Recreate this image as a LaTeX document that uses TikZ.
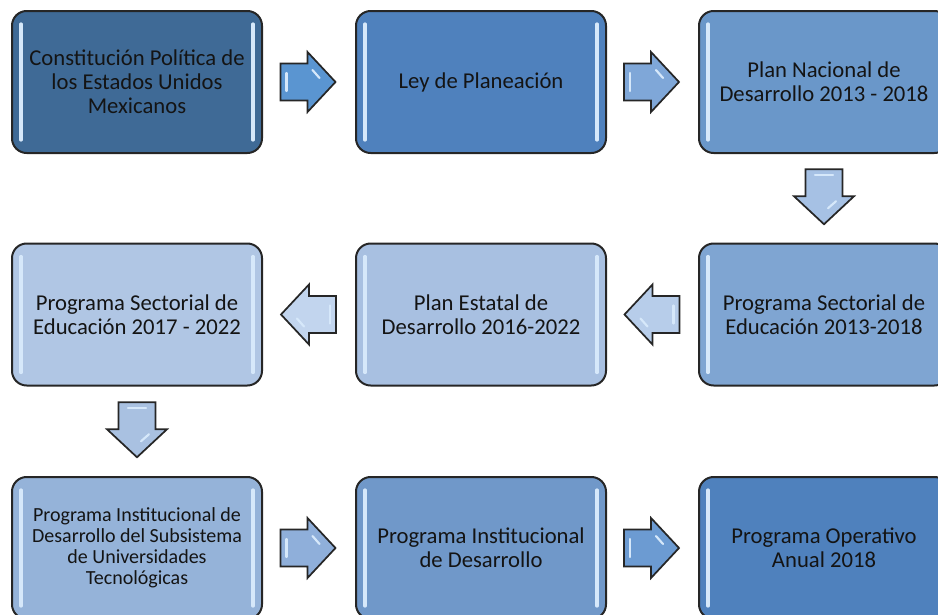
\documentclass[tikz,border=0pt]{standalone}
\usepackage{fontspec}
\setmainfont{Carlito}
\usetikzlibrary{calc}

\definecolor{cajaA}{HTML}{3F6A96}
\definecolor{cajaB}{HTML}{4F81BD}
\definecolor{cajaC}{HTML}{6A97C9}
\definecolor{cajaD}{HTML}{7FA5D2}
\definecolor{cajaE}{HTML}{A8C0E1}
\definecolor{cajaF}{HTML}{B0C6E4}
\definecolor{cajaG}{HTML}{95B3D9}
\definecolor{cajaH}{HTML}{7098C9}
\definecolor{cajaI}{HTML}{4F81BD}
\definecolor{flechaA}{HTML}{5A95D1}
\definecolor{flechaB}{HTML}{7FA7D8}
\definecolor{flechaC}{HTML}{A6C1E4}
\definecolor{flechaD}{HTML}{B7CDEA}
\definecolor{flechaE}{HTML}{C2D5EE}
\definecolor{flechaF}{HTML}{A9C1E1}
\definecolor{flechaG}{HTML}{8FAFDA}
\definecolor{flechaH}{HTML}{6C9BD2}
\definecolor{borde}{HTML}{262626}
\definecolor{texto}{HTML}{141414}
\definecolor{luz}{HTML}{D6E8FA}

\tikzset{every picture/.style={line width=0.75pt}}
\tikzset{
  caja/.style={draw=borde, line width=1.5pt, rounded corners=11pt,
    minimum width=187.5pt, minimum height=106.5pt, align=center,
    font=\fontsize{17}{18}\selectfont, text=texto},
  pics/flecha/.style={code={
    \draw[draw=borde, line width=1.3pt, line join=miter, fill=#1]
      (-27,-18.5) -- (0,-18.5) -- (0,-30) -- (28,0) -- (0,30) -- (0,18.5) -- (-27,18.5) -- cycle;
    \draw[color=luz, line width=1.6pt, line cap=round] (-21,-9) -- (-21,9);
    \draw[color=luz, line width=1.6pt, line cap=round] (12,4) -- (5,12);
  }}
}

\begin{document}
\begin{tikzpicture}[x=0.75pt,y=0.75pt,yscale=-1,xscale=1]
\path[use as bounding box, clip] (0,0) rectangle (938,614);

% Row 1
\node[caja, fill=cajaA] (cpeum) at (137,82) {Constitución Política de\\los Estados Unidos\\Mexicanos};
\node[caja, fill=cajaB] (ley) at (481,82) {Ley de Planeación};
\node[caja, fill=cajaC] (pnd) at (824,82) {Plan Nacional de\\Desarrollo 2013 - 2018};
% Row 2
\node[caja, fill=cajaD] (pse13) at (824,314.5) {Programa Sectorial de\\Educación 2013-2018};
\node[caja, fill=cajaE] (ped) at (481,314.5) {Plan Estatal de\\Desarrollo 2016-2022};
\node[caja, fill=cajaF] (pse17) at (137,314.5) {Programa Sectorial de\\Educación 2017 - 2022};
% Row 3
\node[caja, fill=cajaG, font=\fontsize{15}{15.75}\selectfont] (pids) at (137,548) {Programa Institucional de\\Desarrollo del Subsistema\\de Universidades\\Tecnológicas};
\node[caja, fill=cajaH] (pid) at (481,548) {Programa Institucional\\de Desarrollo};
\node[caja, fill=cajaI] (poa) at (824,548) {Programa Operativo\\Anual 2018};

% highlights
\foreach \caj in {cpeum,ley,pnd,pse13,ped,pse17,pids,pid,poa} {
  \draw[color=luz, line width=2.4pt, line cap=round] ($(\caj.north west)+(10,14)$) -- ($(\caj.south west)+(10,-14)$);
  \draw[color=luz, line width=2.4pt, line cap=round] ($(\caj.north east)+(-10,14)$) -- ($(\caj.south east)+(-10,-14)$);
}

% Arrows
\pic at ($(cpeum.east)!0.5!(ley.west)+(-1.5,0)$) {flecha=flechaA};
\pic at ($(ley.east)!0.5!(pnd.west)+(-1.5,0)$) {flecha=flechaB};
\pic[rotate=-90] at ($(pnd.south)!0.5!(pse13.north)+(0,-2)$) {flecha=flechaC};
\pic[rotate=180] at ($(pse13.west)!0.5!(ped.east)$) {flecha=flechaD};
\pic[rotate=180] at ($(ped.west)!0.5!(pse17.east)$) {flecha=flechaE};
\pic[rotate=-90] at ($(pse17.south)!0.5!(pids.north)+(0,-2)$) {flecha=flechaF};
\pic at ($(pids.east)!0.5!(pid.west)+(-1.5,0)$) {flecha=flechaG};
\pic at ($(pid.east)!0.5!(poa.west)+(-1.5,0)$) {flecha=flechaH};

\end{tikzpicture}
\end{document}
